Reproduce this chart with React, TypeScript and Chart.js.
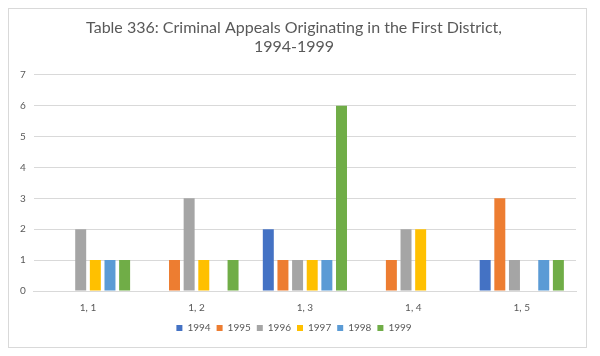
import React, { useEffect, useRef } from "react";
import { Chart, registerables } from "chart.js";

Chart.register(...registerables);

const categories = ["1, 1", "1, 2", "1, 3", "1, 4", "1, 5"];
const seriesLabels = ["1994", "1995", "1996", "1997", "1998", "1999"];
const v1994 = [0, 0, 2, 0, 1];
const v1995 = [0, 1, 1, 1, 3];
const v1996 = [2, 3, 1, 2, 1];
const v1997 = [1, 1, 1, 2, 0];
const v1998 = [1, 0, 1, 0, 1];
const v1999 = [1, 1, 6, 0, 1];
const seriesColors = ["#4472C4", "#ED7D31", "#A5A5A5", "#FFC000", "#5B9BD5", "#70AD47"];
const titleLines = ["Table 336: Criminal Appeals Originating in the First District,", "1994-1999"];

export default function App() {
  const ref = useRef<HTMLCanvasElement | null>(null);
  useEffect(() => {
    if (!ref.current) return;
    const values = [v1994, v1995, v1996, v1997, v1998, v1999];
    const font = "Lato, 'Open Sans', sans-serif";
    const chart = new Chart(ref.current, {
      type: "bar",
      data: {
        labels: categories,
        datasets: seriesLabels.map((l, i) => ({
          label: l,
          data: values[i],
          backgroundColor: seriesColors[i],
          borderWidth: 0,
          categoryPercentage: 0.81,
          barPercentage: 0.75,
        })),
      },
      options: {
        animation: false,
        responsive: false,
        maintainAspectRatio: false,
        layout: { padding: { left: 3, right: 10, top: 6, bottom: 4 } },
        plugins: {
          title: {
            display: true,
            text: titleLines,
            color: "#595959",
            font: { family: font, size: 16, weight: "normal", lineHeight: 1.15 },
            padding: { top: 4, bottom: 19 },
          },
          legend: {
            position: "bottom",
            labels: {
              boxWidth: 6,
              boxHeight: 6,
              color: "#595959",
              font: { family: font, size: 10 },
              padding: 6,
            },
          },
          tooltip: { enabled: false },
        },
        scales: {
          x: {
            grid: { display: false },
            border: { color: "#d9d9d9" },
            ticks: { color: "#595959", font: { family: font, size: 10 }, padding: 3 },
          },
          y: {
            min: 0,
            max: 7,
            ticks: { stepSize: 1, color: "#595959", font: { family: font, size: 10 }, padding: 8 },
            grid: { color: "#d9d9d9", drawTicks: false },
            border: { display: false },
          },
        },
      },
    });
    return () => chart.destroy();
  }, []);
  return (
    <div style={{ width: 579, height: 340, border: "1px solid #d9d9d9", boxSizing: "border-box", background: "#fff" }}>
      <canvas ref={ref} width={577} height={338} style={{ display: "block" }} />
    </div>
  );
}
